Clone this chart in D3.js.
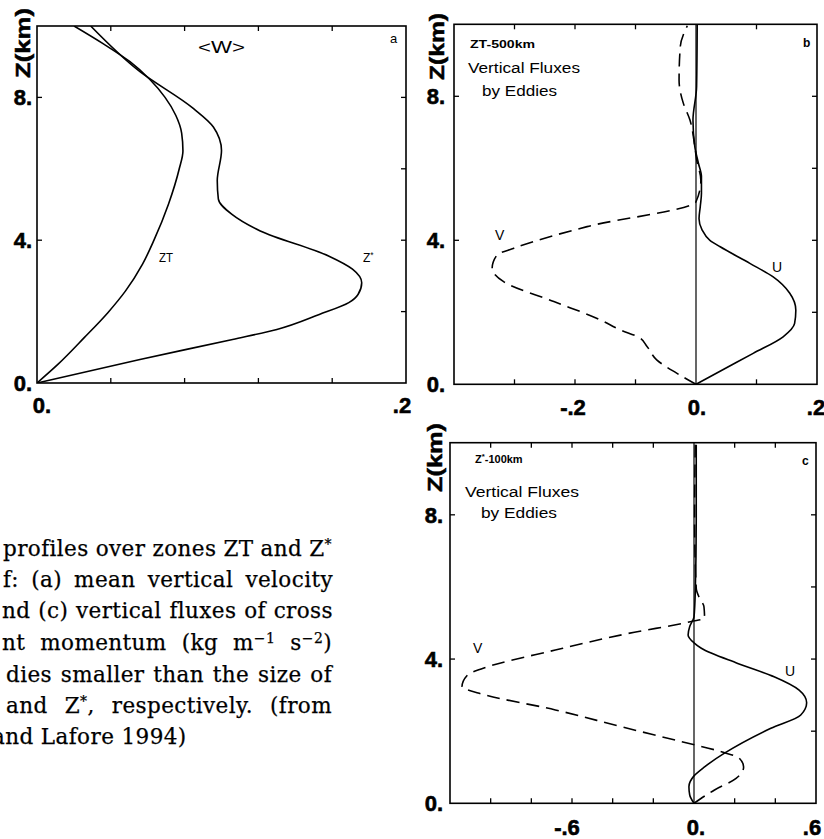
<!DOCTYPE html>
<html>
<head>
<meta charset="utf-8">
<script src="https://cdn.jsdelivr.net/npm/d3@7"></script>
<style>
  body { margin: 0; background: #fff; }
  svg { display: block; }
</style>
</head>
<body>
<svg id="fig" width="824" height="839"></svg>
<script>
// ---------- Panel a: mean vertical velocity <W> (m/s) ----------
const wZTHeights = [0, 0.52, 1.27, 1.97, 2.58, 3.33, 4, 5, 6, 6.5, 7, 7.5, 8, 8.5, 9, 9.5, 10];
const wZTValues  = [0, 0.0113, 0.0256, 0.0384, 0.048, 0.0572, 0.0634, 0.0712, 0.0771, 0.0791, 0.0784, 0.0752, 0.0694, 0.0612, 0.0504, 0.036, 0.0201];

const wZStarHeights = [0, 0.66, 1.22, 1.5, 1.92, 2.25, 2.48, 2.81, 3.19, 3.56, 4.26, 4.73, 5.15, 5.67, 6.51, 7.17, 7.69, 8.72, 10];
const wZStarValues  = [0, 0.0558, 0.106, 0.130, 0.153, 0.169, 0.174, 0.176, 0.171, 0.158, 0.121, 0.1055, 0.0983, 0.0977, 0.100, 0.0956, 0.0847, 0.0558, 0.0291];

// ---------- Panel b: ZT-500km eddy fluxes ----------
const bUHeights = [0, 0.5, 0.86, 1.32, 1.69, 2.06, 2.53, 2.99, 3.36, 3.82, 4.0, 4.29, 4.6, 4.93, 5.3, 5.77, 6.14, 6.6, 7.34, 8.27, 10];
const bUValues  = [0, 0.055, 0.0945, 0.144, 0.163, 0.165, 0.155, 0.127, 0.089, 0.040, 0.023, 0.010, 0.005, 0.007, 0.009, 0.009, 0.004, -0.002, -0.005, 0.001, 0.002];

const bVHeights = [0, 0.31, 0.68, 1.05, 1.31, 1.51, 1.79, 2.30, 2.85, 3.22, 3.59, 3.78, 4.38, 5.07, 5.67, 6.24, 6.6, 7.34, 7.81, 8.45, 9.38, 9.96];
const bVValues  = [0, -0.032, -0.065, -0.081, -0.095, -0.125, -0.158, -0.235, -0.318, -0.337, -0.329, -0.301, -0.180, 0.0, 0.008, 0.001, -0.002, -0.010, -0.021, -0.028, -0.026, -0.0144];

// ---------- Panel c: Z*-100km eddy fluxes ----------
const cUHeights = [0, 0.23, 0.46, 0.76, 1.01, 1.39, 2.08, 2.45, 2.79, 3.14, 3.51, 3.88, 4.30, 4.45, 4.67, 4.90, 5.17, 5.82, 7.86, 9.94];
const cUValues  = [0, -0.021, -0.025, 0, 0.052, 0.150, 0.378, 0.525, 0.554, 0.517, 0.394, 0.215, 0.036, 0, -0.029, -0.021, 0, 0.006, 0.011, 0.011];

const cVHeights = [0, 0.37, 0.69, 1.01, 1.25, 1.43, 1.71, 2.12, 2.59, 3.05, 3.23, 3.56, 3.74, 4.25, 4.71, 5.04, 5.13, 5.45, 5.69, 5.96, 7.86, 9.94];
const cVValues  = [0, 0.101, 0.207, 0.244, 0.223, 0.134, -0.062, -0.355, -0.682, -1.056, -1.141, -1.113, -1.040, -0.682, -0.323, -0.013, 0.052, 0.049, 0.027, 0.011, 0.003, 0.006];

// ---------- Axis ticks and labels ----------
const heightDomain = [0, 10];
const heightMinorTicks = [2, 4, 6, 8];
const heightLabelTicks = [0, 4, 8];

const aXDomain = [0, 0.2];
const aXTicks = [0.04, 0.08, 0.12, 0.16];
const aXLabels = [[0, "0."], [0.2, ".2"]];

const bXDomain = [-0.4, 0.2];
const bXTicks = [-0.3, -0.2, -0.1, 0.1];
const bXLabels = [[-0.2, "-.2"], [0, "0."], [0.2, ".2"]];

const cXDomain = [-1.2, 0.6];
const cXTicks = [-1.0, -0.8, -0.6, -0.4, -0.2, 0.2, 0.4];
const cXLabels = [[-0.6, "-.6"], [0, "0."], [0.6, ".6"]];

// Caption fragment (^{..} marks a superscript)
const captionLines = [
  "profiles over zones ZT and Z^{*}",
  "f: (a) mean vertical velocity",
  "nd (c) vertical fluxes of cross",
  "nt momentum (kg m^{\u22121} s^{\u22122})",
  "dies smaller than the size of",
  "and Z^{*}, respectively. (from",
  "and Lafore 1994)"
];

const svg = d3.select("#fig");
const SANS = "'Liberation Sans', Arial, Helvetica, sans-serif";
const SERIF = "'DejaVu Serif', serif";

// Fill a <text> with plain and superscript runs.
function fillRuns(t, str, supSize, rise) {
  const parts = str.split(/\^\{([^}]*)\}/);
  let pendingDrop = 0;
  parts.forEach((p, k) => {
    if (!p) return;
    if (k % 2 === 1) {
      t.append("tspan").attr("dy", -rise).attr("font-size", supSize).text(p);
      pendingDrop = rise;
    } else {
      const s = t.append("tspan").text(p);
      if (pendingDrop) { s.attr("dy", pendingDrop); pendingDrop = 0; }
    }
  });
}

function panel(cfg) {
  const g = svg.append("g");
  const x = d3.scaleLinear().domain(cfg.xDomain).range([cfg.left, cfg.right]);
  const y = d3.scaleLinear().domain(heightDomain).range([cfg.bottom, cfg.top]);
  const clipId = "clip-" + cfg.id;
  svg.append("clipPath").attr("id", clipId)
    .append("rect").attr("x", cfg.left).attr("y", cfg.top)
    .attr("width", cfg.right - cfg.left).attr("height", cfg.bottom - cfg.top);

  // frame
  g.append("rect")
    .attr("x", cfg.left).attr("y", cfg.top)
    .attr("width", cfg.right - cfg.left).attr("height", cfg.bottom - cfg.top)
    .attr("fill", "none").attr("stroke", "#000").attr("stroke-width", 1.6);

  const tl = 5;
  // top/bottom inward ticks
  cfg.xTicks.forEach(t => {
    g.append("line").attr("x1", x(t)).attr("x2", x(t)).attr("y1", cfg.bottom).attr("y2", cfg.bottom - tl)
      .attr("stroke", "#000").attr("stroke-width", 1.3);
    g.append("line").attr("x1", x(t)).attr("x2", x(t)).attr("y1", cfg.top).attr("y2", cfg.top + tl)
      .attr("stroke", "#000").attr("stroke-width", 1.3);
  });
  // right inward ticks
  heightMinorTicks.forEach(t => {
    g.append("line").attr("x1", cfg.right).attr("x2", cfg.right - tl).attr("y1", y(t)).attr("y2", y(t))
      .attr("stroke", "#000").attr("stroke-width", 1.3);
  });
  // left inward ticks at labelled heights
  heightLabelTicks.filter(t => t > 0).forEach(t => {
    g.append("line").attr("x1", cfg.left).attr("x2", cfg.left + tl).attr("y1", y(t)).attr("y2", y(t))
      .attr("stroke", "#000").attr("stroke-width", 1.3);
  });

  // height labels
  heightLabelTicks.forEach(t => {
    g.append("text").attr("x", cfg.left - cfg.yLabelGap).attr("y", y(t) + 8)
      .attr("text-anchor", "end").attr("font-family", SANS).attr("font-weight", "bold")
      .attr("font-size", 22).attr("stroke", "#000").attr("stroke-width", 0.6).text(t + ".");
  });
  // x labels
  cfg.xLabels.forEach(([v, s], i) => {
    g.append("text").attr("x", x(v) + cfg.xLabelShift[i]).attr("y", cfg.bottom + cfg.xLabelDrop)
      .attr("text-anchor", "middle").attr("font-family", SANS).attr("font-weight", "bold")
      .attr("font-size", 22).attr("stroke", "#000").attr("stroke-width", 0.6).text(s);
  });
  // axis title
  g.append("text")
    .attr("transform", `translate(${cfg.titleX},${cfg.titleY}) rotate(-90)`)
    .attr("text-anchor", "middle").attr("font-family", SANS).attr("font-weight", "bold")
    .attr("font-size", 21).attr("textLength", cfg.titleLen).attr("lengthAdjust", "spacingAndGlyphs")
    .attr("stroke", "#000").attr("stroke-width", 0.5)
    .text("Z(km)");

  const plot = g.append("g").attr("clip-path", `url(#${clipId})`);
  if (cfg.zeroLine) {
    plot.append("line").attr("x1", x(0)).attr("x2", x(0)).attr("y1", cfg.top).attr("y2", cfg.bottom)
      .attr("stroke", "#000").attr("stroke-width", 1.2);
  }
  cfg.series.forEach(s => {
    const pts = s.heights.map((h, i) => [s.values[i], h]);
    const line = d3.line().x(d => x(d[0])).y(d => y(d[1])).curve(d3.curveMonotoneY);
    plot.append("path").attr("d", line(pts)).attr("fill", "none")
      .attr("stroke", "#000").attr("stroke-width", 1.6)
      .attr("stroke-dasharray", s.dashed ? "13,7" : null);
  });
  return { g, x, y };
}

function label(g, txt, x, y, size, opts = {}) {
  const t = g.append("text").attr("x", x).attr("y", y)
    .attr("font-family", SANS).attr("font-size", size)
    .attr("font-weight", opts.bold ? "bold" : "normal");
  if (opts.len) t.attr("textLength", opts.len).attr("lengthAdjust", "spacingAndGlyphs");
  fillRuns(t, txt, size * 0.7, size * 0.35);
  return t;
}

// Panel a
const pa = panel({
  id: "a", left: 37, right: 406, top: 26, bottom: 383,
  xDomain: aXDomain, xTicks: aXTicks, xLabels: aXLabels, xLabelShift: [5, -4], xLabelDrop: 30,
  yLabelGap: 5, titleX: 30, titleY: 43, titleLen: 70, zeroLine: false,
  series: [
    { heights: wZTHeights, values: wZTValues },
    { heights: wZStarHeights, values: wZStarValues }
  ]
});
label(pa.g, "<W>", 198, 53, 16, { len: 47 });
label(pa.g, "a", 390, 43, 13);
label(pa.g, "ZT", 159, 262, 12, { len: 14 });
label(pa.g, "Z^{*}", 363, 262, 12);

// Panel b
const pb = panel({
  id: "b", left: 454, right: 817, top: 24.3, bottom: 384.3,
  xDomain: bXDomain, xTicks: bXTicks, xLabels: bXLabels, xLabelShift: [-2, 1, -1], xLabelDrop: 31,
  yLabelGap: 9, titleX: 444, titleY: 46.5, titleLen: 67, zeroLine: true,
  series: [
    { heights: bUHeights, values: bUValues },
    { heights: bVHeights, values: bVValues, dashed: true }
  ]
});
label(pb.g, "ZT-500km", 470, 48, 11, { bold: true, len: 65 });
label(pb.g, "Vertical Fluxes", 468, 73, 15.5, { len: 112 });
label(pb.g, "by Eddies", 482, 96, 15.5, { len: 75 });
label(pb.g, "b", 803, 47, 12, { bold: true });
label(pb.g, "V", 495, 240, 14);
label(pb.g, "U", 772, 272, 14);

// Panel c
const pc = panel({
  id: "c", left: 450, right: 816, top: 442.7, bottom: 803.3,
  xDomain: cXDomain, xTicks: cXTicks, xLabels: cXLabels, xLabelShift: [-5, 2, -4], xLabelDrop: 31.5,
  yLabelGap: 7, titleX: 442, titleY: 457.5, titleLen: 69, zeroLine: true,
  series: [
    { heights: cUHeights, values: cUValues },
    { heights: cVHeights, values: cVValues, dashed: true }
  ]
});
label(pc.g, "Z^{*}-100km", 475, 463, 11, { bold: true });
label(pc.g, "Vertical Fluxes", 465, 497, 15.5, { len: 114 });
label(pc.g, "by Eddies", 481, 518, 15.5, { len: 76 });
label(pc.g, "c", 802, 465, 12, { bold: true });
label(pc.g, "V", 473, 653, 14);
label(pc.g, "U", 785, 676, 14);

// Caption fragment: justified by stretching the inter-word spaces
const capG = svg.append("g");
const capStarts = [3, 3, 2, 2, 6, 6, -8];
const capEnds = [332, 333, 333, 332, 332, 332, 186];
const capBaselines = [556, 587, 618, 650, 682, 713, 744];
const CAP_SIZE = 21.5;
captionLines.forEach((line, i) => {
  const t = capG.append("text").attr("x", capStarts[i]).attr("y", capBaselines[i])
    .attr("font-family", SERIF).attr("font-size", CAP_SIZE)
    .attr("letter-spacing", 0.4)
    .attr("stroke", "#000").attr("stroke-width", 0.25)
    .style("white-space", "pre");
  fillRuns(t, line, 14, 7.5);
  const natural = t.node().getComputedTextLength();
  const target = capEnds[i] - capStarts[i];
  const gaps = (line.match(/ /g) || []).length;
  if (i < captionLines.length - 1 && gaps > 0) {
    t.attr("word-spacing", (target - natural) / gaps);
  }
});
</script>
</body>
</html>
